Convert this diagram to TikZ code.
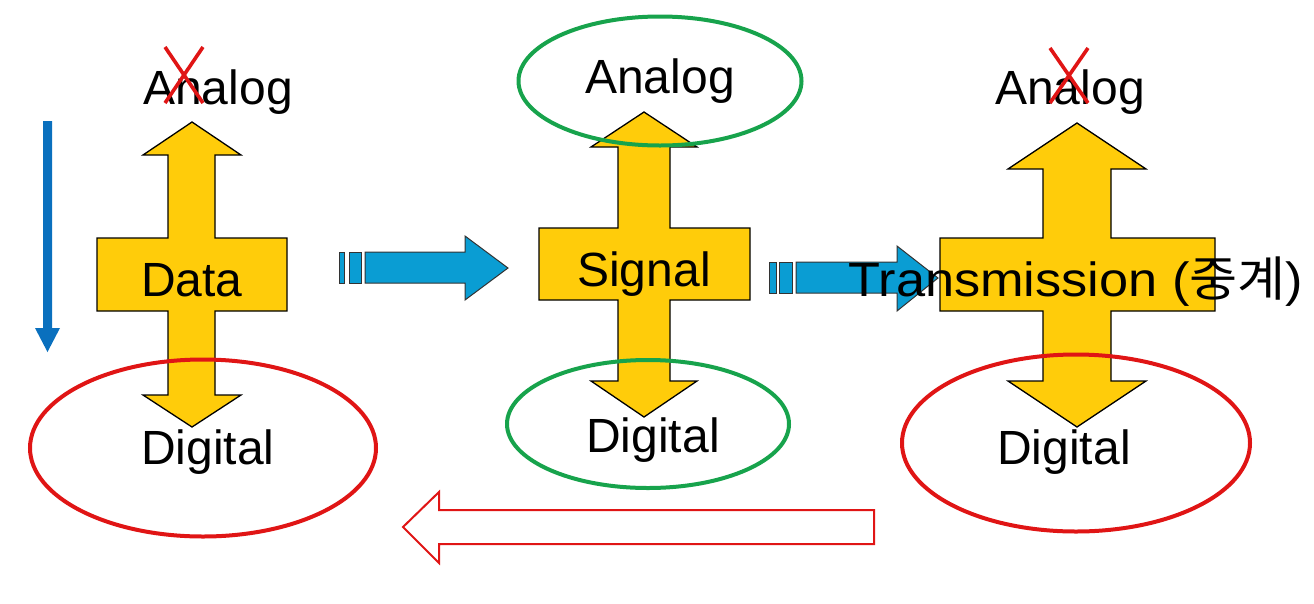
\documentclass[tikz,border=0pt]{standalone}
\usepackage{fontspec}
\setmainfont{Liberation Sans}
\newfontfamily\kor{Noto Sans CJK KR}
\usepackage{graphicx}
\usepackage{tikz}
\usetikzlibrary{shapes.geometric}
\definecolor{crossyellow}{HTML}{FFCC0A}
\definecolor{flowblue}{HTML}{0A9DD3}
\definecolor{downblue}{HTML}{0A70BE}
\definecolor{ringred}{HTML}{E01515}
\definecolor{ringgreen}{HTML}{17A34C}
\tikzstyle{cross}=[fill=crossyellow, draw=black, line width=1.3pt, line join=miter]
\tikzstyle{flow}=[fill=flowblue, draw=black!80, line width=1pt]
\tikzstyle{back}=[fill=white, draw=ringred, line width=2pt]
\tikzstyle{redring}=[ellipse, draw=ringred, line width=4pt]
\tikzstyle{greenring}=[ellipse, draw=ringgreen, line width=4pt]
\tikzstyle{word}=[inner sep=0pt, anchor=base, font=\fontsize{48}{56}\selectfont]
\tikzstyle{strike}=[draw=ringred, line width=3.6pt]

\begin{document}
\begin{tikzpicture}[x=1pt, y=-1pt]
        \useasboundingbox (0,0) rectangle (1314,603);

        % Data
        \draw[cross] (192,122) -- (241,155) -- (215,155) -- (215,238) -- (287,238) -- (287,311) -- (215,311) -- (215,395) -- (241,395) -- (192,427)
            -- (143,395) -- (168,395) -- (168,311) -- (97,311) -- (97,238) -- (168,238) -- (168,155) -- (143,155) -- cycle;
        % Signal
        \draw[cross] (644,112) -- (697,147) -- (670,147) -- (670,228) -- (750,228) -- (750,300) -- (670,300) -- (670,381) -- (697,381) -- (644,417)
            -- (591,381) -- (618,381) -- (618,300) -- (539,300) -- (539,228) -- (618,228) -- (618,147) -- (591,147) -- cycle;
        % Transmission
        \draw[cross] (1077,123) -- (1146,169) -- (1111,169) -- (1111,238) -- (1215,238) -- (1215,311) -- (1111,311) -- (1111,381) -- (1146,381) -- (1077,427)
            -- (1008,381) -- (1043,381) -- (1043,311) -- (940,311) -- (940,238) -- (1043,238) -- (1043,169) -- (1008,169) -- cycle;

        % blue arrows
        \draw[flow] (339,252) rectangle (344,283);
        \draw[flow] (349,252) rectangle (361,283);
        \draw[flow] (365,252) -- (465,252) -- (465,236) -- (508,268) -- (465,300) -- (465,283) -- (365,283) -- cycle;
        \draw[flow] (769,262) rectangle (776,293);
        \draw[flow] (779,262) rectangle (792,293);
        \draw[flow] (796,262) -- (897,262) -- (897,246) -- (938,278) -- (897,311) -- (897,293) -- (796,293) -- cycle;
        \fill[downblue] (43,121) -- (52,121) -- (52,328) -- (60,328) -- (47.5,352) -- (35,328) -- (43,328) -- cycle;

        % way back
        \draw[back] (874,510) -- (439,510) -- (439,492) -- (403,527) -- (439,563) -- (439,544) -- (874,544) -- cycle;

        % rings
        \node (dataRing) [redring, minimum width=346, minimum height=177] at (203,448) {};
        \node (sigTop) [greenring, minimum width=283, minimum height=129] at (660,81) {};
        \node (sigBot) [greenring, minimum width=282, minimum height=128] at (648,424) {};
        \node (transRing) [redring, minimum width=348, minimum height=177] at (1076,443) {};

        % labels
        \node (dataAna) [word] at (218,104) {Analog};
        \node (data) [word] at (192,296) {Data};
        \node (dataDig) [word] at (208,464) {Digital};
        \node (sigAna) [word] at (660,93) {Analog};
        \node (signal) [word] at (644,286) {Signal};
        \node (sigDig) [word] at (653,452) {Digital};
        \node (transAna) [word] at (1070,104) {Analog};
        \node (trans) [word] at (1076,296) {\scalebox{1.09}[1]{Transmission ({\kor 중계})}};
        \node (transDig) [word] at (1064,464) {Digital};

        % crossed out
        \draw[strike] (165,47) -- (203,103);
        \draw[strike] (203,47) -- (165,103);
        \draw[strike] (1050,48) -- (1088,103);
        \draw[strike] (1088,48) -- (1050,103);
\end{tikzpicture}
\end{document}
